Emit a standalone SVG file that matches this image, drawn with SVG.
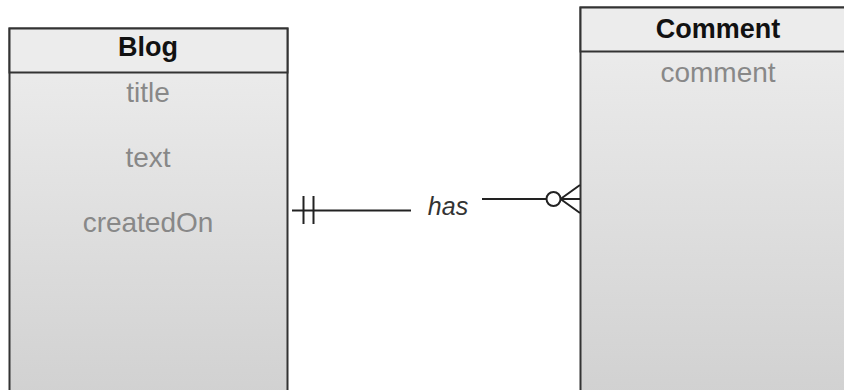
<svg xmlns="http://www.w3.org/2000/svg" width="844" height="390" viewBox="0 0 844 390">
<style>
.box{stroke:#333;stroke-width:2}
.hdr{fill:#ececec;stroke:#333;stroke-width:2}
.title{font-family:"Liberation Sans",Arial,sans-serif;font-weight:bold;font-size:27px;fill:#111;text-anchor:middle}
.attr{font-family:"Liberation Sans",Arial,sans-serif;font-size:28px;fill:#888;text-anchor:middle}
.lbl{font-family:"Liberation Sans",Arial,sans-serif;font-size:25px;font-style:italic;fill:#333;text-anchor:middle}
.ln{stroke:#222;stroke-width:2;fill:none}
</style>
<defs>
<linearGradient id="g" x1="0" y1="0" x2="0" y2="1">
<stop offset="0" stop-color="#eeeeee"/>
<stop offset="1" stop-color="#d0d0d0"/>
</linearGradient>
</defs>
<rect width="844" height="390" fill="#ffffff"/>
<g id="blog">
<rect class="box" x="9.5" y="28.5" width="278" height="380" fill="url(#g)"/>
<rect class="hdr" x="9.5" y="28.5" width="278" height="44"/>
<text class="title" x="148" y="56">Blog</text>
<text class="attr" x="148" y="101.5">title</text>
<text class="attr" x="148" y="166.5">text</text>
<text class="attr" x="148" y="231.5">createdOn</text>
</g>
<g id="comment">
<rect class="box" x="580.5" y="7.5" width="276" height="401" fill="url(#g)"/>
<rect class="hdr" x="580.5" y="7.5" width="276" height="44"/>
<text class="title" x="718" y="38">Comment</text>
<text class="attr" x="718" y="81.5">comment</text>
</g>
<g id="connectors">
<path class="ln" d="M292 210.5 H411 M303.5 196 V224 M313.5 196 V224"/>
<text class="lbl" x="448" y="215">has</text>
<path class="ln" d="M482 199 H546.5 M560.5 199 H580 M560.5 199 L580 185 M560.5 199 L580 213"/>
<circle class="ln" cx="553.5" cy="199" r="7"/>
</g>
</svg>
